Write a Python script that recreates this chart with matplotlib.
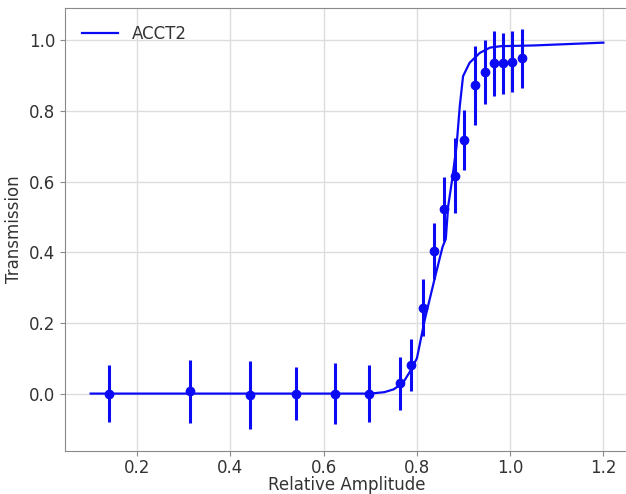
import matplotlib
matplotlib.use("Agg")
import matplotlib.pyplot as plt

# Measured transmission vs relative amplitude
amp = [0.14, 0.313, 0.442, 0.540, 0.624, 0.697, 0.763, 0.788, 0.813, 0.836,
       0.858, 0.881, 0.902, 0.925, 0.945, 0.965, 0.985, 1.005, 1.025]
trans = [0.0, 0.006, -0.004, 0.0, 0.0, 0.0, 0.029, 0.081, 0.243, 0.403,
         0.523, 0.616, 0.718, 0.872, 0.910, 0.934, 0.934, 0.939, 0.949]
trans_err = [0.081, 0.088, 0.097, 0.075, 0.086, 0.080, 0.075, 0.073, 0.080, 0.080,
             0.090, 0.106, 0.085, 0.112, 0.090, 0.092, 0.086, 0.087, 0.083]

# Model curve (ACCT2)
model_amp = [0.10, 0.60, 0.70, 0.73, 0.75, 0.77, 0.785, 0.80, 0.817, 0.838,
             0.855, 0.862, 0.867, 0.875, 0.885, 0.892, 0.899, 0.913, 0.935,
             0.957, 0.98, 1.05, 1.20]
model_trans = [0.0, 0.0, 0.0, 0.004, 0.012, 0.030, 0.062, 0.10, 0.21, 0.325,
               0.415, 0.438, 0.53, 0.60, 0.70, 0.814, 0.898, 0.936, 0.964,
               0.979, 0.983, 0.985, 0.993]

x_ticks = [0.2, 0.4, 0.6, 0.8, 1.0, 1.2]
y_ticks = [0.0, 0.2, 0.4, 0.6, 0.8, 1.0]

blue = "#0a0af5"

fig = plt.figure(figsize=(6.26, 4.94), dpi=100)
ax = fig.add_axes([65 / 626, 43.5 / 494, 564 / 626, 442.5 / 494])

ax.plot(model_amp, model_trans, color=blue, lw=1.6, label="ACCT2", zorder=3)
ax.errorbar(amp, trans, yerr=trans_err, fmt="o", color=blue, ms=6,
            elinewidth=2.2, capsize=0, zorder=4)

ax.set_xlim(0.045, 1.255)
ax.set_ylim(-0.161, 1.091)
ax.set_xticks(x_ticks)
ax.set_yticks(y_ticks)
ax.set_xticklabels([f"{v:.1f}" for v in x_ticks])
ax.set_yticklabels([f"{v:.1f}" for v in y_ticks])

ax.grid(True, color="#dddddd", lw=1.0)
ax.set_axisbelow(True)
for s in ax.spines.values():
    s.set_color("#8a8a8a")
ax.tick_params(colors="#8a8a8a", labelcolor="#333333", labelsize=12, length=3.5)
ax.tick_params(axis="x", pad=2.5)

ax.set_xlabel("Relative Amplitude", fontsize=12, color="#333333", labelpad=-0.5)
ax.set_ylabel("Transmission", fontsize=12, color="#333333", labelpad=4)

leg = ax.legend(loc="upper left", frameon=False, fontsize=12, handlelength=2.2,
                borderaxespad=0.6)
for t in leg.get_texts():
    t.set_color("#333333")

fig.savefig("out.png", dpi=100)
